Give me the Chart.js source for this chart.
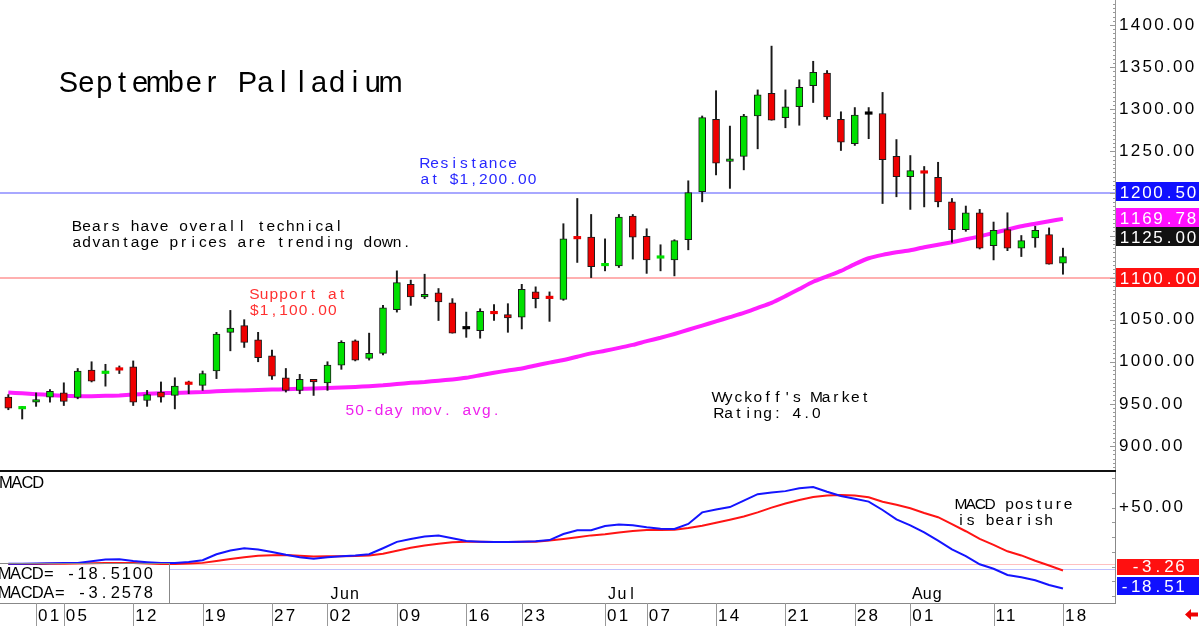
<!DOCTYPE html>
<html><head><meta charset="utf-8">
<script src="https://cdn.jsdelivr.net/npm/chart.js@4"></script>
<style>
html,body{margin:0;padding:0;background:#fff;overflow:hidden}
#wrap{position:relative;width:1200px;height:626px;background:#fff}
canvas{position:absolute;left:0}
#c1{top:0}
#c2{top:470px}
</style></head><body>
<div id="wrap"><canvas id="c1" width="1200" height="470"></canvas><canvas id="c2" width="1200" height="156"></canvas></div>
<script>
// ---------------- data ----------------
const opens  = [958,944,952,958,963,957.5,990,986,991,994,954,964,960,974,972,989,1035,1043,1026,1007,
                981,966,979,975,996,1025,1004,1010,1062,1092,1077,1082,1070,1039,1037,1058,1056,1053,1083,1076,
                1074,1147,1148,1114,1114,1173,1149,1123,1121,1145,1202,1288,1238,1244,1292,1319,1290,1303,1328,1343,
                1288,1259,1294,1295,1244,1220,1225,1219,1190,1157,1177,1138,1157,1135,1147,1151,1117];
const highs  = [961,947,963,967,975,992,1000,997,995,1001,966,976,981,977,989,1035,1061,1050,1035,1014,
                992,985,979,1000,1025,1026,1034,1067,1108,1097,1104,1087,1075,1059,1063,1068,1069,1092,1089,1083,
                1164,1194,1175,1146,1175,1175,1158,1139,1145,1215,1292,1322,1280,1294,1323,1375,1323,1335,1357,1346,
                1297,1302,1302,1320,1264,1245,1232,1237,1194,1185,1181,1166,1177,1150,1161,1159,1135];
const lows   = [943,932,947,952,948,956,976,971,986,948,947,952,944,962,966,980,1013,1017,1000,979,
                964,962,960,966,991,1001,1002,1008,1059,1067,1075,1049,1034,1029,1028,1049,1035,1039,1064,1048,
                1073,1118,1100,1108,1112,1122,1105,1108,1102,1133,1190,1222,1206,1228,1253,1287,1278,1281,1308,1288,
                1251,1257,1265,1188,1196,1181,1184,1184,1142,1155,1134,1121,1132,1125,1136,1116,1104];
const closes = [945,944.5,954,965,953,989,977,987,990,952,961,958,971,973,986,1033,1040,1023,1005,983,
                966,979,976,996,1023,1002,1010,1064,1094,1077,1080,1071,1034,1039,1060,1057,1052,1086,1075,1075,
                1146,1146,1113,1115,1172,1148,1121,1123.5,1144,1201,1290,1236,1241,1292,1317,1287,1303,1326,1344,1291,
                1261,1293,1294,1240,1220,1227,1224,1190,1157,1177,1135,1156,1135,1144,1156,1116,1125];
const ma50   = [963.5,962.5,961.5,960.5,959.5,959,959,959.5,960,961,962,962.5,963,963.5,964,965,965.5,966,966.5,967,
                967.3,967.8,968.3,968.8,969.3,970,971,972,973.5,975,976,977.5,979,981,984,987,989.5,992,995.5,999,
                1002,1006,1010,1013,1016.5,1020,1024.5,1028.5,1033,1038,1043,1048,1053,1058,1064,1070,1078,1086.5,1095,1101.5,
                1108,1116,1123,1127,1130,1132.5,1136,1139,1142,1145.5,1149,1153,1157,1161,1164,1167,1169.78];
const macd   = [2.5,2.5,2.6,2.8,3.0,3.2,4.5,6.0,6.3,4.8,3.8,3.0,3.0,4.0,5.5,10.5,13.6,15.6,14.6,12.5,
                10.0,8.0,6.8,8.0,8.8,9.4,10.5,15.6,21.0,23.5,25.5,26.3,24.0,21.8,21.2,20.8,20.8,21.2,21.6,22.5,
                27.7,30.8,30.8,34.5,35.8,35.0,33.4,32.2,32.0,36.2,46.0,48.5,50.5,56.0,61.4,62.8,64.0,66.4,67.5,63.5,
                59.9,57.5,55.1,48.0,40.0,35.0,29.0,22.0,14.7,9.0,2.0,-1.8,-7.0,-9.0,-11.5,-15.5,-18.51];
const signal = [2.2,2.2,2.3,2.4,2.5,2.6,2.8,3.0,3.2,3.0,2.6,2.2,2.2,2.6,3.2,4.8,6.4,8.0,9.3,9.7,
                9.9,9.3,8.7,8.8,8.9,9.1,9.5,11.0,13.5,16.0,18.0,19.5,20.7,21.2,21.0,20.8,20.8,21.0,21.2,22.2,
                23.5,25.0,26.5,27.5,29.0,30.2,31.0,31.1,31.2,32.8,34.7,37.2,39.8,42.5,46.0,50.0,53.5,56.5,59.0,60.3,
                60.8,60.3,58.8,55.0,52.5,49.5,45.5,41.9,36.0,30.0,23.5,18.5,13.0,9.5,5.0,1.0,-3.2578];
const priceTicks = [900,950,1000,1050,1100,1150,1200,1250,1300,1350,1400];
const macdTicks = [50];
const dateTickIdx = [2,4,9,14,19,23,28,33,37,43,46,51,56,61,65,71,76];
const dateTickLabels = ['01','05','12','19','27','02','09','16','23','01','07','14','21','28','01','11','18'];
const monthIdx = [23,43,65];
const monthNames = ['Jun','Jul','Aug'];
const resistanceLevel = 1200.5;
const supportLevel = 1100;
const macdGuides = [2, -2];

// ---------------- helpers ----------------
const GREEN = '#00e000', RED = '#ee0000';
const FONT = '"Liberation Sans", Arial, sans-serif';
const N = closes.length;
const idx = closes.map((_, i) => i);
const candleColor = i => closes[i] > opens[i] ? GREEN : (closes[i] < opens[i] ? RED : '#000');
const isDoji = i => Math.abs(closes[i] - opens[i]) <= 1;
const XMIN = -0.6, XMAX = 79.75;

function monoText(ctx, str, x, baseline, cell, size, color) {
  ctx.save();
  ctx.letterSpacing = '0px';
  ctx.font = size + 'px ' + FONT;
  ctx.fillStyle = color; ctx.textAlign = 'center'; ctx.textBaseline = 'alphabetic';
  for (let k = 0; k < str.length; k++) {
    const ch = str[k];
    if (ch !== ' ') ctx.fillText(ch, x + cell * (k + 0.5), baseline);
  }
  ctx.restore();
}
function box(ctx, x0, x1, yc, h, bg, txt, tx, size, cell) {
  ctx.save();
  ctx.fillStyle = bg;
  ctx.fillRect(x0, Math.round(yc - h / 2), x1 - x0, h);
  ctx.restore();
  monoText(ctx, txt, tx, Math.round(yc - h / 2) + h - 3, cell, size, '#fff');
}
const spacingPlugin = {
  id: 'spacing',
  beforeDraw(chart) { chart.ctx.letterSpacing = '2.3px'; },
  afterDraw(chart) { chart.ctx.letterSpacing = '0px'; }
};

// ---------------- price chart ----------------
const pricePlugin = {
  id: 'priceDeco',
  beforeDatasetsDraw(chart) {
    const ctx = chart.ctx, ys = chart.scales.y, a = chart.chartArea;
    ctx.save();
    ctx.letterSpacing = '0px';
    let y = Math.round(ys.getPixelForValue(resistanceLevel));
    ctx.fillStyle = '#a8a8ff'; ctx.fillRect(0, y - 1, a.right, 2);
    y = Math.round(ys.getPixelForValue(supportLevel));
    ctx.fillStyle = '#ffb0b0'; ctx.fillRect(0, y - 1, a.right, 2);
    ctx.restore();
  },
  afterDraw(chart) {
    const ctx = chart.ctx, ys = chart.scales.y, a = chart.chartArea;
    ctx.save();
    ctx.letterSpacing = '0px';
    // minor ticks on the value axis
    ctx.strokeStyle = '#999'; ctx.lineWidth = 1;
    for (let v = 875; v <= 1425; v += 5) {
      const y = Math.round(ys.getPixelForValue(v)) + 0.5;
      const len = v % 50 === 0 ? 5 : 2;
      ctx.beginPath(); ctx.moveTo(a.right - len, y); ctx.lineTo(a.right, y); ctx.stroke();
    }
    ctx.restore();
    // annotations
    monoText(ctx, 'September Palladium', 59.5, 92, 17.9, 29, '#000');
    monoText(ctx, 'Resistance', 420, 168, 9.75, 15.5, '#2828ff');
    monoText(ctx, 'at $1,200.00', 420, 184, 9.75, 15.5, '#2828ff');
    monoText(ctx, 'Bears have overall technical', 72, 231, 9.7, 15.5, '#000');
    monoText(ctx, 'advantage prices are trending down.', 72, 247, 9.7, 15.5, '#000');
    monoText(ctx, 'Support at', 249.5, 299, 9.75, 15.5, '#ff3030');
    monoText(ctx, '$1,100.00', 249.5, 315, 9.75, 15.5, '#ff3030');
    monoText(ctx, '50-day mov. avg.', 345, 414.5, 9.75, 15.5, '#ee22ee');
    monoText(ctx, "Wyckoff's Market", 714, 401.5, 9.75, 15.5, '#000');
    monoText(ctx, 'Rating: 4.0', 714, 417.5, 9.75, 15.5, '#000');
    // value boxes
    const x0 = a.right + 1, x1 = 1199;
    const yb = ys.getPixelForValue(resistanceLevel) - 1;
    box(ctx, x0, x1, yb, 19, '#1010ff', resistanceLevel.toFixed(2), 1119, 17, 11.15);
    const ym = ys.getPixelForValue(ma50[N - 1]) - 1;
    box(ctx, x0, x1, ym, 19, '#ff10ff', ma50[N - 1].toFixed(2), 1119, 17, 11.15);
    box(ctx, x0, x1, ym + 19, 19, '#111', closes[N - 1].toFixed(2), 1119, 17, 11.15);
    const yr = ys.getPixelForValue(supportLevel);
    box(ctx, x0, x1, yr, 19, '#ff1010', supportLevel.toFixed(2), 1119, 17, 11.15);
  }
};

new Chart(document.getElementById('c1'), {
  type: 'bar',
  data: {
    datasets: [
      { type: 'bar', data: idx.map(i => ({ x: i, y: [opens[i], closes[i]] })), order: 0, grouped: false,
        barPercentage: 1, categoryPercentage: 1, maxBarThickness: 7, minBarLength: 2.5,
        backgroundColor: c => candleColor(c.dataIndex), borderColor: '#1a1a1a',
        borderWidth: c => isDoji(c.dataIndex) ? 0 : 1, borderSkipped: false },
      { type: 'bar', data: idx.map(i => ({ x: i, y: [lows[i], highs[i]] })), order: 1, grouped: false,
        barPercentage: 1, categoryPercentage: 1, maxBarThickness: 1.3,
        backgroundColor: '#1a1a1a', borderWidth: 0 },
      { type: 'line', data: idx.map(i => ({ x: i, y: ma50[i] })), order: 2, borderColor: '#ff1eff',
        borderWidth: 4, pointRadius: 0, tension: 0.2 }
    ]
  },
  options: {
    responsive: false, animation: false, devicePixelRatio: 1,
    layout: { padding: 0 },
    plugins: { legend: { display: false }, tooltip: { enabled: false } },
    scales: {
      x: { type: 'linear', min: XMIN, max: XMAX, display: false, offset: false },
      y: { position: 'right', min: 871.4, max: 1429.8,
        afterBuildTicks: s => { s.ticks = priceTicks.map(v => ({ value: v })); },
        afterFit: s => { s.width = 85; s.paddingTop = 0; s.paddingBottom = 0; },
        grid: { display: false, drawTicks: false },
        border: { display: true, color: '#999', width: 1 },
        ticks: { padding: 4, color: '#000', font: { family: FONT, size: 17 }, callback: v => v.toFixed(2) } }
    }
  },
  plugins: [spacingPlugin, pricePlugin]
});

// ---------------- MACD chart ----------------
const macdPlugin = {
  id: 'macdDeco',
  beforeDatasetsDraw(chart) {
    const ctx = chart.ctx, ys = chart.scales.y, a = chart.chartArea;
    ctx.save();
    ctx.fillStyle = '#ffc0c0';
    ctx.fillRect(170, Math.round(ys.getPixelForValue(macdGuides[0])), a.right - 170, 1);
    ctx.fillStyle = '#c0c0ff';
    ctx.fillRect(170, Math.round(ys.getPixelForValue(macdGuides[1])), a.right - 170, 1);
    ctx.restore();
  },
  afterDraw(chart) {
    const ctx = chart.ctx, ys = chart.scales.y, xs = chart.scales.x, a = chart.chartArea;
    ctx.save();
    ctx.letterSpacing = '0px';
    // top separator
    ctx.fillStyle = '#111'; ctx.fillRect(0, 0, a.right + 1, 2);
    // date separators
    ctx.fillStyle = '#999';
    dateTickIdx.forEach(v => { const x = Math.round(xs.getPixelForValue(v)); ctx.fillRect(x, a.bottom, 1, chart.height - a.bottom); });
    // minor ticks on the MACD axis
    for (let v = -25; v <= 75; v += 12.5) {
      const y = Math.round(ys.getPixelForValue(v));
      ctx.fillRect(a.right - 3, y, 3, 1);
    }
    // readout box
    ctx.fillStyle = '#888';
    ctx.fillRect(0, 93, 170, 1);
    ctx.fillRect(169, 93, 1, a.bottom - 93);
    ctx.restore();
    // panel texts
    monoText(ctx, 'MACD', 0.5, 18.3, 10.8, 16.5, '#000');
    monoText(ctx, 'MACD posture', 956, 39.3, 9.75, 15.5, '#000');
    monoText(ctx, 'is bearish', 956, 55, 9.75, 15.5, '#000');
    monoText(ctx, 'MACD= ' + macd[N - 1].toFixed(4), -1, 109, 11.07, 16.5, '#000');
    monoText(ctx, 'MACDA= ' + signal[N - 1].toFixed(4), -1, 127.7, 11.07, 16.5, '#000');
    monthIdx.forEach((m, k) => monoText(ctx, monthNames[k], xs.getPixelForValue(m) + 2, 129, 10, 16, '#000'));
    // value boxes
    const x0 = a.right + 2, x1 = 1199;
    const yRed = ys.getPixelForValue(signal[N - 1]) - 3;
    const yBlue = Math.max(ys.getPixelForValue(macd[N - 1]) - 2, yRed + 17);
    box(ctx, x0, x1, yRed, 16, '#ff1010', signal[N - 1].toFixed(2).padStart(6, ' '), 1119, 17, 11.1);
    box(ctx, x0, x1, yBlue, 18, '#1010ff', macd[N - 1].toFixed(2).padStart(6, ' '), 1119, 17, 11.1);
    // little red arrow
    ctx.save();
    ctx.fillStyle = '#ee0000';
    ctx.beginPath();
    ctx.moveTo(1185, 144.5); ctx.lineTo(1191, 139); ctx.lineTo(1191, 142.5); ctx.lineTo(1198, 142.5);
    ctx.lineTo(1198, 146.5); ctx.lineTo(1191, 146.5); ctx.lineTo(1191, 150); ctx.closePath(); ctx.fill();
    ctx.restore();
  }
};

new Chart(document.getElementById('c2'), {
  type: 'line',
  data: {
    datasets: [
      { data: idx.map(i => ({ x: i, y: macd[i] })), borderColor: '#1414ff', borderWidth: 2, pointRadius: 0, order: 0 },
      { data: idx.map(i => ({ x: i, y: signal[i] })), borderColor: '#ff1414', borderWidth: 2, pointRadius: 0, order: 1 }
    ]
  },
  options: {
    responsive: false, animation: false, devicePixelRatio: 1,
    layout: { padding: 0 },
    plugins: { legend: { display: false }, tooltip: { enabled: false } },
    scales: {
      x: { type: 'linear', min: XMIN, max: XMAX, offset: false,
        afterBuildTicks: s => { s.ticks = dateTickIdx.map(v => ({ value: v })); },
        afterFit: s => { s.height = 23; s.paddingLeft = 0; s.paddingRight = 0; },
        grid: { display: false, drawTicks: false },
        border: { display: true, color: '#888', width: 1 },
        ticks: { autoSkip: false, maxRotation: 0, minRotation: 0, align: 'start', padding: 3, labelOffset: 2,
          color: '#000', font: { family: FONT, size: 17 }, callback: (v, i) => dateTickLabels[i] } },
      y: { position: 'right', min: -30.8, max: 81.9,
        afterBuildTicks: s => { s.ticks = macdTicks.map(v => ({ value: v })); },
        afterFit: s => { s.width = 85; s.paddingTop = 0; s.paddingBottom = 0; },
        grid: { display: false, drawTicks: false },
        border: { display: true, color: '#888', width: 1 },
        ticks: { padding: 4, color: '#000', font: { family: FONT, size: 17 }, callback: v => '+' + v.toFixed(2) } }
    }
  },
  plugins: [spacingPlugin, macdPlugin]
});
</script>
</body></html>
